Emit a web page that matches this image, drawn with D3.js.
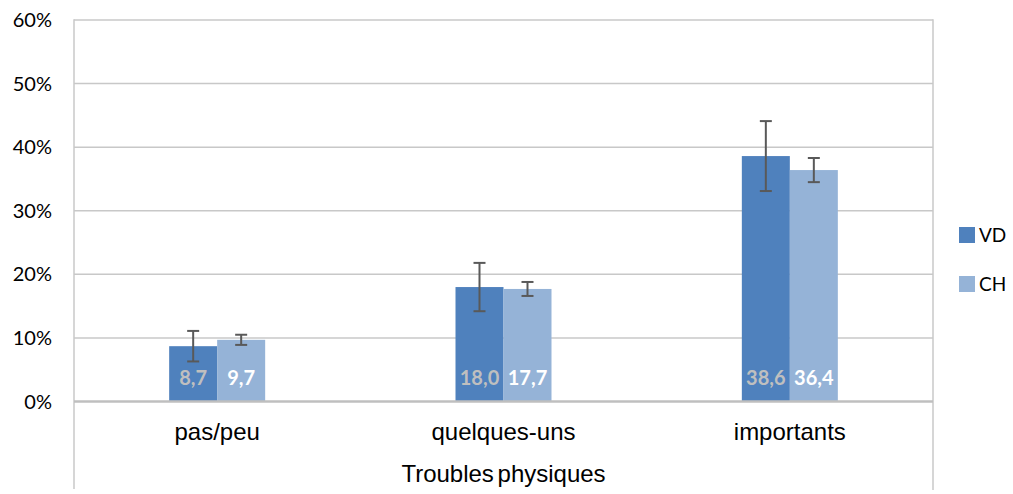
<!DOCTYPE html>
<html><head><meta charset="utf-8">
<script src="https://cdn.jsdelivr.net/npm/d3@7"></script>
<style>body{margin:0;background:#fff}svg{display:block}</style>
</head><body>
<svg id="c" width="1013" height="494"></svg>
<script>
const categories = ["pas/peu", "quelques-uns", "importants"];
const series = ["VD", "CH"];
const valuesVD = [8.7, 18.0, 38.6];
const valuesCH = [9.7, 17.7, 36.4];
const errVD = [2.4, 3.8, 5.5];
const errCH = [0.8, 1.1, 1.9];
const yTicks = [0, 10, 20, 30, 40, 50, 60];
const colors = {VD: "#4F81BD", CH: "#95B3D7"};
const labelColors = {VD: "#BFBFBF", CH: "#FFFFFF"};
const xTitle = "Troubles physiques";

const svg = d3.select("#c");
const L = 74, R = 933, T = 20, B = 401.5;
const x = d3.scaleBand().domain(categories).range([L, R]);
const y = d3.scaleLinear().domain([0, 60]).range([B, T]);
const barW = 48;
const xs = d3.scaleBand().domain(series).range([-barW, barW]);

// gridlines
svg.append("g").selectAll("line").data(yTicks.filter(d => d > 0)).join("line")
  .attr("x1", L).attr("x2", R).attr("y1", d => y(d)).attr("y2", d => y(d))
  .attr("stroke", "#C8C8C8").attr("stroke-width", 1.5);
// borders
svg.append("line").attr("x1", L).attr("x2", L).attr("y1", T - 0.75).attr("y2", 489)
  .attr("stroke", "#C8C8C8").attr("stroke-width", 1.5);
svg.append("line").attr("x1", R).attr("x2", R).attr("y1", T - 0.75).attr("y2", 490)
  .attr("stroke", "#C8C8C8").attr("stroke-width", 1.5);

// y labels
svg.append("g").selectAll("text").data(yTicks).join("text")
  .attr("x", 52).attr("y", d => y(d)).attr("dy", "0.35em")
  .attr("text-anchor", "end").attr("font-family", "Lato, 'Open Sans', sans-serif")
  .attr("font-size", 20).attr("fill", "#000").text(d => d + "%");

const data = [];
categories.forEach((c, i) => {
  data.push({c, s: "VD", v: valuesVD[i], e: errVD[i]});
  data.push({c, s: "CH", v: valuesCH[i], e: errCH[i]});
});

const bx = d => x(d.c) + x.bandwidth() / 2 + xs(d.s);
svg.append("g").selectAll("rect").data(data).join("rect")
  .attr("x", bx).attr("width", xs.bandwidth())
  .attr("y", d => y(d.v)).attr("height", d => B - y(d.v))
  .attr("fill", d => colors[d.s]);

// baseline
svg.append("line").attr("x1", L).attr("x2", R).attr("y1", B).attr("y2", B)
  .attr("stroke", "#BFBFBF").attr("stroke-width", 2.5);

// error bars
const eg = svg.append("g").attr("stroke", "#595959").attr("stroke-width", 2);
data.forEach(d => {
  const cx = bx(d) + xs.bandwidth() / 2;
  eg.append("line").attr("x1", cx).attr("x2", cx).attr("y1", y(d.v + d.e)).attr("y2", y(d.v - d.e));
  eg.append("line").attr("x1", cx - 6).attr("x2", cx + 6).attr("y1", y(d.v + d.e)).attr("y2", y(d.v + d.e));
  eg.append("line").attr("x1", cx - 6).attr("x2", cx + 6).attr("y1", y(d.v - d.e)).attr("y2", y(d.v - d.e));
});

// value labels
svg.append("g").selectAll("text").data(data).join("text")
  .attr("x", d => bx(d) + xs.bandwidth() / 2).attr("y", B - 24).attr("dy", "0.35em")
  .attr("text-anchor", "middle").attr("font-family", "Lato, sans-serif")
  .attr("font-weight", "bold").attr("font-size", 20)
  .attr("fill", d => labelColors[d.s])
  .text(d => d.v.toFixed(1).replace(".", ","));

// category labels
svg.append("g").selectAll("text").data(categories).join("text")
  .attr("x", d => x(d) + x.bandwidth() / 2).attr("y", 432).attr("dy", "0.35em")
  .attr("text-anchor", "middle").attr("font-family", "'Liberation Sans', Arial, sans-serif")
  .attr("font-size", 24).attr("fill", "#000").text(d => d);

svg.append("text").attr("x", (L + R) / 2).attr("y", 474).attr("dy", "0.35em")
  .attr("text-anchor", "middle").attr("font-family", "'Liberation Sans', Arial, sans-serif")
  .attr("font-size", 24).attr("fill", "#000").attr("word-spacing", "-3px").text(xTitle);

// legend
const lg = svg.append("g");
series.forEach((s, i) => {
  const ly = 235 + i * 49;
  lg.append("rect").attr("x", 959).attr("y", ly - 8).attr("width", 16).attr("height", 16).attr("fill", colors[s]);
  lg.append("text").attr("x", 979).attr("y", ly).attr("dy", "0.35em")
    .attr("font-family", "Lato, sans-serif").attr("font-size", 19).attr("fill", "#000").text(s);
});
</script>
</body></html>
